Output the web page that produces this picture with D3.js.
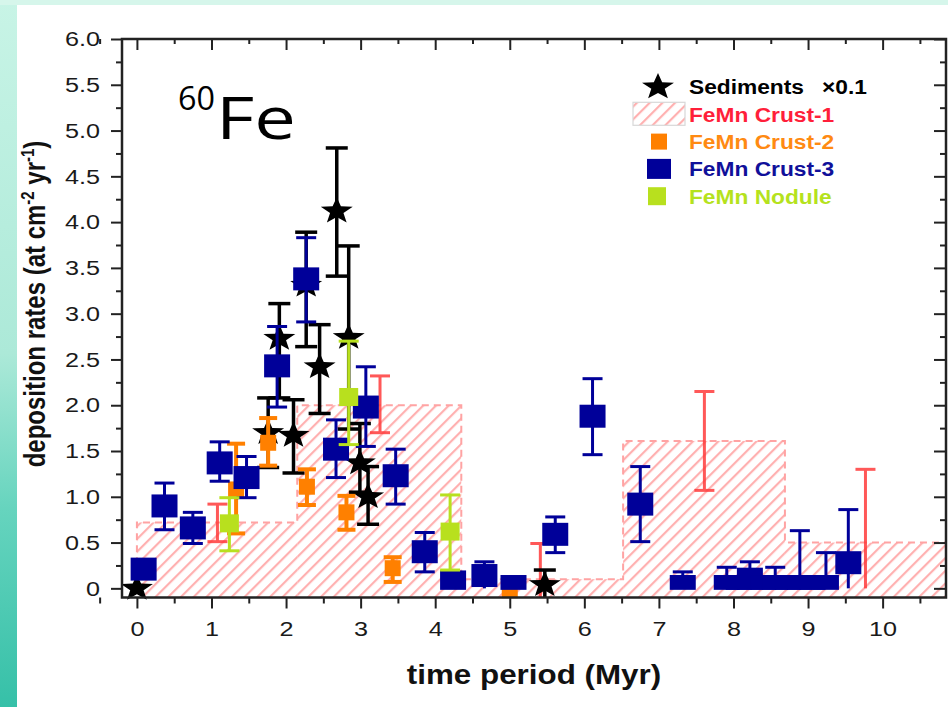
<!DOCTYPE html>
<html>
<head>
<meta charset="utf-8">
<script src="https://cdn.jsdelivr.net/npm/d3@7"></script>
<style>
    html, body { margin: 0; padding: 0; background: #fff; }
    svg { display: block; font-family: "Liberation Sans", Arial, sans-serif; }
</style>
</head>
<body>
<svg id="chart" width="948" height="707"></svg>
<script>
// Sediments (already x0.1), star markers
var sedT  = [0, 1.76, 1.91, 2.10, 2.27, 2.45, 2.68, 2.84, 2.99, 3.10, 5.47]
var sedV  = [0, 1.70, 2.73, 1.67, 3.31, 2.42, 4.12, 2.74, 1.37, 1.00, 0.04]
var sedHi = [0, 2.08, 3.11, 2.06, 3.89, 2.88, 4.81, 3.74, 1.80, 1.33, 0.20]
var sedLo = [0, 1.32, 2.08, 1.26, 2.64, 1.91, 3.41, 1.74, 1.05, 0.70, -0.10]

// FeMn Crust-1: step histogram + its error bars
var c1Edges = [0, 2.15, 4.35, 6.52, 8.69, 10.85]
var c1Rate  = [0.72, 2.0, 0.1, 1.61, 0.5]
var c1eT  = [1.08, 3.26, 5.41, 7.61, 9.77]
var c1eHi = [0.92, 2.32, 0.49, 2.15, 1.30]
var c1eLo = [0.51, 1.70, -0.10, 1.07, 0.0]

// FeMn Crust-2
var c2T  = [1.33, 1.76, 2.28, 2.81, 3.43, 5.00]
var c2V  = [1.08, 1.59, 1.11, 0.83, 0.22, -0.02]
var c2Hi = [1.58, 1.86, 1.30, 1.01, 0.34, -0.02]
var c2Lo = [0.60, 1.34, 0.91, 0.64, 0.07, -0.02]

// FeMn Crust-3
var c3T  = [0.09, 0.37, 0.75, 1.11, 1.47, 1.88, 2.27, 2.67, 3.07, 3.47, 3.86, 4.24, 4.66, 5.05, 5.61, 6.11, 6.75, 7.32, 7.91, 8.07, 8.22, 8.40, 8.56, 8.73, 8.89, 9.06, 9.24, 9.54]
var c3V  = [0.21, 0.90, 0.66, 1.37, 1.21, 2.43, 3.38, 1.52, 1.98, 1.23, 0.40, 0.07, 0.14, 0.02, 0.59, 1.88, 0.92, 0.02, 0.02, 0.02, 0.10, 0.02, 0.02, 0.02, 0.02, 0.02, 0.02, 0.28]
var c3Hi = [0.21, 1.15, 0.83, 1.60, 1.44, 2.86, 3.83, 1.84, 2.42, 1.52, 0.61, 0.07, 0.29, 0.12, 0.78, 2.29, 1.33, 0.18, 0.23, 0.02, 0.29, 0.02, 0.23, 0.02, 0.63, 0.02, 0.39, 0.86]
var c3Lo = [0.21, 0.64, 0.49, 1.17, 0.99, 1.98, 2.91, 1.21, 1.55, 0.92, 0.18, 0.07, 0.0, 0.02, 0.39, 1.46, 0.51, 0.02, 0.02, 0.02, 0.02, 0.02, 0.02, 0.02, 0.02, 0.02, 0.02, 0.0]

// FeMn Nodule
var nodT  = [1.24, 2.84, 4.20]
var nodV  = [0.71, 2.09, 0.62]
var nodHi = [0.99, 2.70, 1.02]
var nodLo = [0.41, 1.57, 0.20]

var xMajor = d3.range(0, 11, 1)
var xMinor = d3.range(-0.5, 11, 0.5).filter(d => d % 1 !== 0)
var yMajor = d3.range(0, 6.01, 0.5)
var yMinor = d3.range(0.25, 6, 0.5)

var colBlue = '#000099', colOrange = '#ff8000', colLime = '#b8e01e', colRed = '#ff3b3b'
var SX = 1.2   // the source figure is stretched sideways

var svg = d3.select('#chart')
var x = d3.scaleLinear().domain([-0.2, 10.85]).range([122, 946])
var y = d3.scaleLinear().domain([-0.1, 6.0]).range([597.5, 39])

function rows(t, v, lo, hi) {
    return t.map((d, i) => ({ t: d, v: v ? v[i] : null, lo: lo[i], hi: hi[i] }))
}
function widen(sel, k) {
    k = k || SX
    sel.each(function() {
        var t = d3.select(this)
        var x0 = +t.attr('x') || 0
        t.attr('x', x0 / k).attr('transform', 'scale(' + k + ',1)')
    })
}
function starPath(R) {
    var r = R * 0.42, p = []
    for (var i = 0; i < 10; i++) {
        var a = -Math.PI / 2 + i * Math.PI / 5, rr = i % 2 ? r : R
        p.push([rr * Math.cos(a), rr * Math.sin(a)])
    }
    return 'M' + p.join('L') + 'Z'
}

var defs = svg.append('defs')
var grad = defs.append('linearGradient').attr('id', 'edge').attr('x1', 0).attr('y1', 0).attr('x2', 0).attr('y2', 1)
grad.append('stop').attr('offset', 0).attr('stop-color', '#c8f4e6')
grad.append('stop').attr('offset', 0.5).attr('stop-color', '#ace9d8')
grad.append('stop').attr('offset', 0.72).attr('stop-color', '#66d4be')
grad.append('stop').attr('offset', 1).attr('stop-color', '#36c0a8')
var hatch = defs.append('pattern').attr('id', 'hatch').attr('patternUnits', 'userSpaceOnUse')
    .attr('width', 9).attr('height', 9).attr('patternTransform', 'rotate(45)')
hatch.append('line').attr('x1', 1).attr('y1', 0).attr('x2', 1).attr('y2', 9)
    .attr('stroke', '#ffb0b0').attr('stroke-width', 2.4)
defs.append('clipPath').attr('id', 'plotclip').append('rect')
    .attr('x', 122).attr('y', 39).attr('width', 824).attr('height', 600)

// slide background edges
svg.append('rect').attr('x', 0).attr('y', 0).attr('width', 17).attr('height', 707).attr('fill', 'url(#edge)')
svg.append('rect').attr('x', 0).attr('y', 0).attr('width', 948).attr('height', 5).attr('fill', '#d6f6eb')

var plot = svg.append('g').attr('clip-path', 'url(#plotclip)')

// Crust-1 hatched steps
var steps = c1Rate.map((r, i) => ({ a: c1Edges[i], b: c1Edges[i + 1], r: r }))
plot.selectAll('rect.c1').data(steps).join('rect').attr('class', 'c1')
    .attr('x', d => x(d.a)).attr('width', d => x(d.b) - x(d.a))
    .attr('y', d => y(d.r)).attr('height', d => y(-0.1) - y(d.r))
    .attr('fill', 'url(#hatch)')
var outline = [[c1Edges[0], 0]]
steps.forEach(d => { outline.push([d.a, d.r]); outline.push([d.b, d.r]) })
plot.append('path').attr('d', d3.line().x(d => x(d[0])).y(d => y(d[1]))(outline))
    .attr('fill', 'none').attr('stroke', '#ffa3a3').attr('stroke-width', 2).attr('stroke-dasharray', '7 5')

function errBars(data, color, width, cap, op) {
    var g = plot.append('g').attr('stroke', color).attr('stroke-width', width).attr('opacity', op || 1)
    data.forEach(d => {
        if (d.hi === d.lo) return
        g.append('line').attr('x1', x(d.t)).attr('x2', x(d.t)).attr('y1', y(d.lo)).attr('y2', y(d.hi))
        g.append('line').attr('x1', x(d.t) - cap / 2).attr('x2', x(d.t) + cap / 2).attr('y1', y(d.hi)).attr('y2', y(d.hi))
        if (d.lo > 0)
            g.append('line').attr('x1', x(d.t) - cap / 2).attr('x2', x(d.t) + cap / 2).attr('y1', y(d.lo)).attr('y2', y(d.lo))
    })
}
function squares(data, color, w, h, clampZero) {
    plot.append('g').selectAll('rect').data(data).join('rect')
        .attr('x', d => x(d.t) - w / 2).attr('width', w)
        .attr('y', d => y(d.v) - h / 2)
        .attr('height', d => clampZero ? Math.min(y(d.v) + h / 2, y(0) + 1.5) - (y(d.v) - h / 2) : h)
        .attr('fill', color)
}

errBars(rows(c1eT, null, c1eLo, c1eHi), colRed, 3, 20, 0.85)

var sed = rows(sedT, sedV, sedLo, sedHi)
errBars(sed, '#000', 3.5, 22)
plot.append('g').selectAll('path').data(sed).join('path')
    .attr('d', starPath(14)).attr('fill', '#000')
    .attr('transform', d => 'translate(' + x(d.t) + ',' + y(d.v) + ') scale(' + SX + ',1)')

var c2 = rows(c2T, c2V, c2Lo, c2Hi)
errBars(c2, colOrange, 4, 18)
squares(c2, colOrange, 16, 16, false)

var c3 = rows(c3T, c3V, c3Lo, c3Hi)
errBars(c3, colBlue, 3, 20)
squares(c3, colBlue, 26, 23, true)

var nod = rows(nodT, nodV, nodLo, nodHi)
errBars(nod, colLime, 3, 20)
squares(nod, colLime, 19, 18, false)

// axes and frame
function styleAxis(g) {
    g.select('.domain').remove()
    g.selectAll('line').attr('stroke', '#222').attr('stroke-width', 2)
    g.selectAll('text').attr('font-size', 21).attr('fill', '#1a1a1a')
}
var yFmt = d => d === 0 ? '0' : d.toFixed(1)
svg.append('g').attr('transform', 'translate(122,0)')
    .call(d3.axisLeft(y).tickValues(yMajor).tickSize(11).tickPadding(11).tickFormat(yFmt)).call(styleAxis)
svg.append('g').attr('transform', 'translate(122,0)')
    .call(d3.axisLeft(y).tickValues(yMinor).tickSize(6).tickFormat('')).call(styleAxis)
svg.append('g').attr('transform', 'translate(946,0)')
    .call(d3.axisRight(y).tickValues(yMajor).tickSize(-12).tickFormat('')).call(styleAxis)
svg.append('g').attr('transform', 'translate(946,0)')
    .call(d3.axisRight(y).tickValues(yMinor).tickSize(-6).tickFormat('')).call(styleAxis)
svg.append('g').attr('transform', 'translate(0,597.5)')
    .call(d3.axisBottom(x).tickValues(xMajor).tickSize(11).tickPadding(13).tickFormat(d3.format('d'))).call(styleAxis)
svg.append('g').attr('transform', 'translate(0,597.5)')
    .call(d3.axisBottom(x).tickValues(xMinor).tickSize(6).tickFormat('')).call(styleAxis)
svg.append('g').attr('transform', 'translate(0,39)')
    .call(d3.axisTop(x).tickValues(xMajor).tickSize(-11).tickFormat('')).call(styleAxis)
svg.append('g').attr('transform', 'translate(0,39)')
    .call(d3.axisTop(x).tickValues(xMinor).tickSize(-5).tickFormat('')).call(styleAxis)
svg.selectAll('.tick text').call(widen)

svg.append('rect').attr('x', 122).attr('y', 39).attr('width', 824).attr('height', 558.5)
    .attr('fill', 'none').attr('stroke', '#222').attr('stroke-width', 2.5)

// axis titles
svg.append('text').attr('x', 534).attr('y', 684).attr('text-anchor', 'middle')
    .attr('font-size', 28).attr('font-weight', 'bold').attr('fill', '#111')
    .text('time period (Myr)').call(widen, 1.12)

var yt = svg.append('text').attr('text-anchor', 'middle')
    .attr('transform', 'translate(45,304) scale(' + SX + ',1) rotate(-90)')
    .attr('font-size', 24).attr('font-weight', 'bold').attr('fill', '#111')
yt.append('tspan').text('deposition rates (at cm')
yt.append('tspan').attr('dy', -9).attr('font-size', 15).text('-2')
yt.append('tspan').attr('dy', 9).text(' yr')
yt.append('tspan').attr('dy', -9).attr('font-size', 15).text('-1')
yt.append('tspan').attr('dy', 9).text(')')

// isotope label
svg.append('text').attr('x', 178).attr('y', 110).attr('font-family', '"Open Sans", "Noto Sans", sans-serif')
    .attr('font-size', 32).attr('fill', '#000').attr('textLength', 37).attr('lengthAdjust', 'spacingAndGlyphs').text('60')
svg.append('text').attr('x', 216).attr('y', 139).attr('font-family', '"Open Sans", "Noto Sans", sans-serif')
    .attr('font-size', 58).attr('fill', '#000').attr('textLength', 80).attr('lengthAdjust', 'spacingAndGlyphs').text('Fe')

// legend
var legNames = ['Sediments', 'FeMn Crust-1', 'FeMn Crust-2', 'FeMn Crust-3', 'FeMn Nodule']
var legColors = ['#000', '#ff1f3a', '#ff8a12', '#10109a', '#b5e21d']
var leg = svg.append('g')
var legY = i => 87 + i * 27.3
leg.append('path').attr('d', starPath(14)).attr('fill', '#000')
    .attr('transform', 'translate(658,' + legY(0) + ') scale(' + SX + ',1)')
leg.append('rect').attr('x', 633).attr('y', legY(1) - 12).attr('width', 52).attr('height', 23)
    .attr('fill', 'url(#hatch)').attr('stroke', '#d8d8d8').attr('stroke-width', 1.2)
leg.append('rect').attr('x', 651).attr('y', legY(2) - 8).attr('width', 16).attr('height', 16).attr('fill', colOrange)
leg.append('rect').attr('x', 647).attr('y', legY(3) - 10).attr('width', 24).attr('height', 20).attr('fill', colBlue)
leg.append('rect').attr('x', 648).attr('y', legY(4) - 9).attr('width', 18).attr('height', 18).attr('fill', colLime)
leg.selectAll('text.lab').data(legNames).join('text').attr('class', 'lab')
    .attr('x', 689).attr('y', (d, i) => legY(i) + 7.5)
    .attr('font-size', 20.5).attr('font-weight', 'bold')
    .attr('fill', (d, i) => legColors[i]).text(d => d).call(widen, 1.11)
leg.append('text').attr('x', 822).attr('y', legY(0) + 7.5).attr('font-size', 20.5).attr('font-weight', 'bold')
    .attr('fill', '#000').text('\u00d70.1').call(widen, 1.11)
</script>
</body>
</html>
